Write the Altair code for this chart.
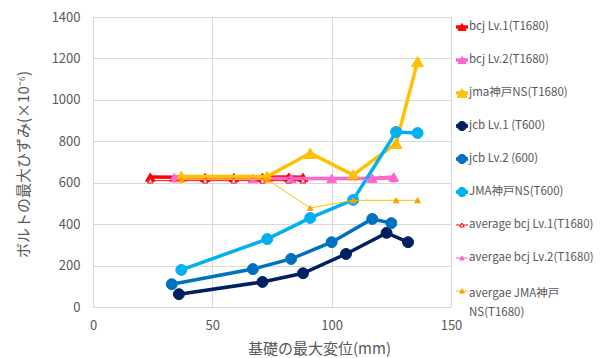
import altair as alt
import pandas as pd

FONT = "Noto Sans CJK JP"
TEXT_COLOR = "#595959"
GRID_COLOR = "#D9D9D9"

# axis ticks
x_ticks = [0, 50, 100, 150]
y_ticks = [0, 200, 400, 600, 800, 1000, 1200, 1400]

# measured series: foundation displacement (mm) vs. bolt strain (x10^-6)
bcj1_x = [24, 47, 59, 71, 82, 88]
bcj1_y = [627, 625, 625, 626, 627, 626]

bcj2_x = [34, 67, 83, 100, 117, 126]
bcj2_y = [625, 620, 620, 620, 622, 628]

jma1680_x = [37, 73, 91, 109, 127, 136]
jma1680_y = [630, 630, 742, 638, 790, 1185]

jcb1_x = [36, 71, 88, 106, 123, 132]
jcb1_y = [62, 121, 163, 256, 358, 313]

jcb2_x = [33, 67, 83, 100, 117, 125]
jcb2_y = [110, 183, 232, 313, 425, 405]

jma600_x = [37, 73, 91, 109, 127, 136]
jma600_y = [179, 328, 430, 517, 845, 840]

# averaged series
avg_bcj1_x = [24, 47, 59, 71, 82, 88]
avg_bcj1_y = [610, 610, 610, 610, 610, 610]

avg_bcj2_x = [34, 67, 83, 100, 117, 126]
avg_bcj2_y = [615, 615, 615, 615, 615, 615]

avg_jma_x = [37, 73, 91, 109, 127, 136]
avg_jma_y = [615, 615, 478, 515, 515, 515]

series = [
    dict(name="bcj Lv.1(T1680)", x=bcj1_x, y=bcj1_y, line="#FF0000", lw=3.5,
         shape="triangle-up", size=90, fill="#FF0000", stroke="#FF0000"),
    dict(name="bcj Lv.2(T1680)", x=bcj2_x, y=bcj2_y, line="#FF66CC", lw=3.5,
         shape="triangle-up", size=95, fill="#FF66CC", stroke="#FF66CC"),
    dict(name="jma神戸NS(T1680)", x=jma1680_x, y=jma1680_y, line="#FFC000", lw=3.5,
         shape="triangle-up", size=140, fill="#FFC000", stroke="#FFC000"),
    dict(name="jcb Lv.1 (T600)", x=jcb1_x, y=jcb1_y, line="#002060", lw=3.5,
         shape="circle", size=120, fill="#002060", stroke="#002060"),
    dict(name="jcb Lv.2 (600)", x=jcb2_x, y=jcb2_y, line="#0070C0", lw=3.5,
         shape="circle", size=120, fill="#0070C0", stroke="#0070C0"),
    dict(name="JMA神戸NS(T600)", x=jma600_x, y=jma600_y, line="#00B0F0", lw=3.5,
         shape="circle", size=120, fill="#00B0F0", stroke="#00B0F0"),
    dict(name="average bcj Lv.1(T1680)", x=avg_bcj1_x, y=avg_bcj1_y, line="#FF0000", lw=1,
         shape="triangle-up", size=30, fill="#FFFFFF", stroke="#FF0000"),
    dict(name="avergae bcj Lv.2(T1680)", x=avg_bcj2_x, y=avg_bcj2_y, line="#FF66CC", lw=1,
         shape="triangle-up", size=30, fill="#FF66CC", stroke="#FF66CC"),
    dict(name="avergae JMA神戸\nNS(T1680)", x=avg_jma_x, y=avg_jma_y, line="#FFC000", lw=1,
         shape="triangle-up", size=34, fill="#FFA000", stroke="#FFA000"),
]

x_enc = alt.X(
    "x:Q",
    scale=alt.Scale(domain=[0, 150], nice=False),
    axis=alt.Axis(values=x_ticks, format="d", labelPadding=12, labelOverlap=False,
                  labelFlush=False, labelBound=False,
                  titleX=226, titleY=41, titleBaseline="middle", titleAlign="center"),
    title="基礎の最大変位(mm)",
)
y_enc = alt.Y(
    "y:Q",
    scale=alt.Scale(domain=[0, 1400], nice=False),
    axis=alt.Axis(values=y_ticks, format="d", labelPadding=13, labelOverlap=False,
                  labelFlush=False,
                  titleX=-70, titleY=147, titleAngle=270, titleBaseline="middle",
                  titleAlign="center"),
    title="ボルトの最大ひずみ(×10⁻⁶)",
)

plot_layers = []
for s in series:
    df = pd.DataFrame({"x": s["x"], "y": s["y"]})
    base = alt.Chart(df)
    plot_layers.append(
        base.mark_line(color=s["line"], strokeWidth=s["lw"]).encode(x=x_enc, y=y_enc)
    )
    plot_layers.append(
        base.mark_point(shape=s["shape"], size=s["size"], filled=True, fill=s["fill"],
                        stroke=s["stroke"], strokeWidth=1, opacity=1)
        .encode(x=x_enc, y=y_enc)
    )
plot = alt.layer(*plot_layers)

# legend on the right, one row per series
leg_y = alt.Y("pos:Q", scale=alt.Scale(domain=[-0.303, 8.485], reverse=True, nice=False, zero=False),
              axis=None)
legend_layers = []
for i, s in enumerate(series):
    row = pd.DataFrame({"pos": [i], "label": [s["name"]]})
    b = alt.Chart(row)
    legend_layers.append(
        b.mark_rule(color=s["line"], strokeWidth=s["lw"]).encode(
            x=alt.value(363), x2=alt.value(375), y=leg_y)
    )
    legend_layers.append(
        b.mark_point(shape=s["shape"], size=s["size"] * 0.7, filled=True, fill=s["fill"],
                     stroke=s["stroke"], strokeWidth=1, opacity=1)
        .encode(x=alt.value(369), y=leg_y)
    )
    multi = "\n" in s["name"]
    legend_layers.append(
        b.mark_text(align="left", baseline="top" if multi else "middle",
                    dy=-3 if multi else 0, lineBreak="\n", lineHeight=19,
                    font=FONT, fontSize=11.5, color=TEXT_COLOR)
        .encode(x=alt.value(376), y=leg_y, text="label:N")
    )
legend = alt.layer(*legend_layers)

chart = (
    alt.layer(plot, legend)
    .resolve_scale(y="independent")
    .properties(
        width=358,
        height=290,
        padding={"left": 93, "top": 17, "right": 149, "bottom": 51},
        autosize=alt.AutoSizeParams(type="none"),
        background="white",
    )
    .configure_view(strokeWidth=0)
    .configure_axis(
        labelFont=FONT,
        labelFontSize=13,
        labelColor=TEXT_COLOR,
        titleFont=FONT,
        titleFontSize=15,
        titleFontWeight="normal",
        titleColor=TEXT_COLOR,
        gridColor=GRID_COLOR,
        gridWidth=1,
        domain=False,
        ticks=False,
        tickSize=0,
    )
)

chart.save("out.html", embed_options={"renderer": "svg", "actions": False})
